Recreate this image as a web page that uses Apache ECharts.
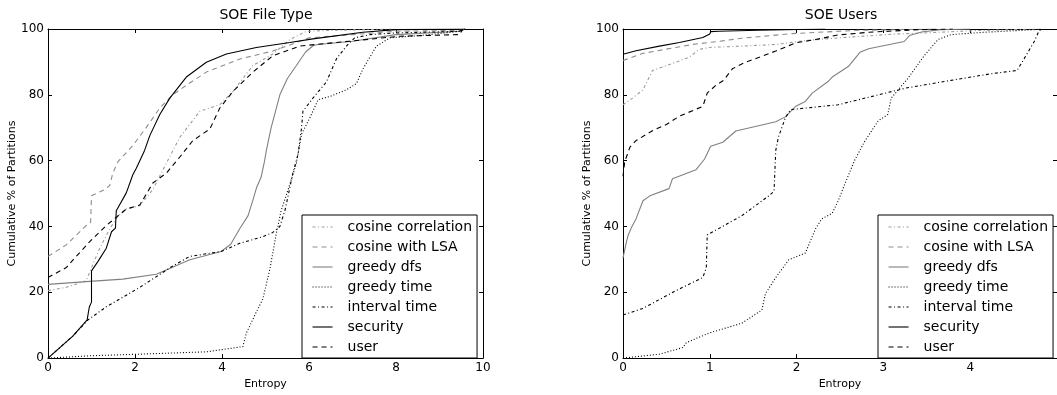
<!DOCTYPE html>
<html><head><meta charset="utf-8">
<script src="https://cdn.jsdelivr.net/npm/echarts@6/dist/echarts.min.js"></script>
<style>html,body{margin:0;padding:0;background:#fff}#c{width:1057px;height:395px}</style>
</head><body><div id="c"></div>
<script>
const FONT = 'DejaVu Sans';
const seriesNames = ['cosine correlation','cosine with LSA','greedy dfs','greedy time','interval time','security','user'];
const panelTitles = ['SOE File Type','SOE Users'];
const xAxisName = 'Entropy';
const yAxisName = 'Cumulative % of Partitions';
const yTicks = [0, 100, 20];          // min, max, step
const xTicksFileType = [0, 10, 2];
const xTicksUsers = [0, 5, 1];

// ---- SOE File Type: [entropy, cumulative %]
const ftCosineCorrelation = [[0,20.5],[0.42,21.5],[0.88,23.5],[1.0,27.5],[1.19,33.4],[1.42,39.3],[1.6,43],[1.8,45.3],[2.11,46.3],[2.41,51.2],[2.72,59.2],[3.03,67.1],[3.49,75],[3.95,77],[4.25,81],[4.71,88.9],[5.17,92.4],[5.56,96.8],[5.94,99.3],[6.55,99.6],[8.0,100]];
const ftCosineLSA = [[0,30.9],[0.42,34.4],[0.88,40.3],[0.98,41.3],[1.0,49.3],[1.3,51.2],[1.42,52.5],[1.49,56.2],[1.61,59.7],[1.95,64.6],[2.26,70.1],[2.57,76],[2.87,80],[3.18,82.9],[3.64,86.9],[4.41,90.9],[5.17,93.3],[6.0,97.3],[8.0,99.3],[9.54,99.6],[9.6,100]];
const ftGreedyDfs = [[0,22.4],[0.96,23.3],[1.72,24],[2.49,25.5],[3.26,29.9],[3.98,32.4],[4.2,34.6],[4.41,39.4],[4.6,43.3],[4.71,48],[4.8,52],[4.9,55],[4.98,60],[5.02,63.1],[5.13,70],[5.21,74],[5.33,80],[5.5,84.9],[5.71,88.9],[5.92,93],[6.1,95],[6.2,95.3],[7.0,96.3],[8.0,98.3],[9.46,99.3],[9.58,100]];
const ftGreedyTime = [[0,0],[0.96,0.7],[2.11,1.2],[3.64,1.9],[4.48,3.5],[4.56,7.6],[4.79,14],[4.94,18],[5.1,27],[5.25,38],[5.36,44.8],[5.52,51.2],[5.71,59.2],[5.83,68.1],[6.02,73],[6.21,78.5],[6.48,79.5],[6.86,81.5],[7.09,83.4],[7.24,87.9],[7.55,94.8],[7.86,97.3],[8.78,98.3],[9.46,99.3],[9.58,100]];
const ftIntervalTime = [[0,0],[0.57,6.7],[0.92,11.6],[1.34,15.6],[2.11,21.5],[2.87,28],[3.26,30.9],[3.98,32.4],[4.41,34.9],[4.94,36.9],[5.17,38.2],[5.33,40],[5.45,45],[5.63,56.2],[5.75,62.1],[5.83,70.1],[5.86,75],[6.09,79],[6.4,83.9],[6.63,90.9],[6.86,94.8],[7.05,97.3],[7.4,98.3],[8.0,98.8],[9.46,99.3],[9.58,100]];
const ftSecurity = [[0,0],[0.57,6.7],[0.9,11.6],[0.93,14],[0.95,15.5],[1.0,17],[1.0,26.5],[1.15,29.4],[1.34,33.4],[1.46,38.4],[1.55,39.5],[1.57,44.8],[1.8,50.2],[1.95,55.7],[2.03,57.7],[2.22,63.1],[2.34,67.6],[2.57,74],[2.8,79],[3.18,85.4],[3.64,89.9],[4.1,92.4],[4.79,94.4],[5.56,95.9],[6.09,97],[7.24,99],[8.0,99.8],[9.6,100]];
const ftUser = [[0,24.5],[0.42,27.5],[0.65,30.9],[0.96,35.4],[1.34,40.3],[1.8,45.3],[2.11,46.5],[2.41,53.2],[2.72,56.2],[3.03,61.1],[3.33,66.1],[3.72,69.6],[3.95,76],[4.25,81],[4.71,86.9],[5.17,91.9],[5.79,94.8],[6.93,96.3],[8.08,97.8],[9.46,98.3],[9.54,100]];

// ---- SOE Users: [entropy, cumulative %]
const usCosineCorrelation = [[0,77],[0.11,79],[0.23,81.5],[0.34,87.4],[0.61,89.9],[0.76,91.4],[0.88,93.8],[0.99,94.4],[1.37,94.8],[1.76,95.3],[2.14,96.6],[2.48,97.3],[3.09,98.4],[3.47,98.8],[4.05,99.5],[4.81,100]];
const usCosineLSA = [[0,90.4],[0.23,92.6],[0.8,95.3],[1.18,96.5],[1.37,97.2],[1.95,98.6],[2.48,99.3],[2.71,99.6],[3.6,100]];
const usGreedyDfs = [[0,30.4],[0.04,35.4],[0.06,37.4],[0.1,39.8],[0.15,42.3],[0.23,47.8],[0.31,49.3],[0.53,51.5],[0.57,54.5],[0.84,57.2],[0.94,60.5],[1.01,64.4],[1.15,65.6],[1.3,69],[1.76,71.8],[1.87,73.3],[1.99,76.5],[2.1,78],[2.18,80.5],[2.37,84.2],[2.41,85.4],[2.6,88.7],[2.73,92.9],[2.83,94],[3.24,96.2],[3.3,98],[3.44,99.1],[3.66,99.8],[4.0,100]];
const usGreedyTime = [[0,0],[0.42,1.2],[0.69,3.2],[0.73,4.7],[0.99,7.6],[1.37,10.6],[1.6,14.6],[1.64,19.5],[1.76,24.5],[1.91,29.9],[2.1,31.9],[2.22,39.4],[2.29,42.3],[2.41,44],[2.48,47.8],[2.56,53.2],[2.67,60.2],[2.79,66.1],[2.94,72.1],[3.05,74],[3.09,79],[3.28,84.9],[3.47,91.9],[3.63,96.8],[3.78,98.3],[4.16,99],[4.74,99.8],[4.81,100]];
const usIntervalTime = [[0,13.1],[0.23,15.1],[0.61,20.5],[0.92,24.5],[0.96,27.5],[0.97,37.4],[1.03,38.3],[1.37,43.3],[1.68,49.3],[1.74,50.7],[1.76,63.1],[1.79,67.1],[1.87,73],[1.93,75.5],[2.48,77],[3.02,80.5],[3.25,82],[3.78,84.4],[4.24,86.4],[4.54,87.4],[4.62,90.9],[4.74,96.3],[4.79,99.3],[4.82,100]];
const usSecurity = [[0,92.3],[0.15,93.4],[0.42,94.8],[0.65,95.9],[0.92,97.4],[1.0,98.5],[1.01,99.2],[1.1,99.3],[1.56,99.6],[2.33,100]];
const usUser = [[0,55.2],[0.02,59.7],[0.08,64.1],[0.15,66.1],[0.34,69.1],[0.5,71],[0.65,73.5],[0.92,76.5],[0.97,80.5],[1.07,82.9],[1.16,84.4],[1.26,87.9],[1.41,89.9],[1.57,91.4],[1.76,93.3],[1.99,95.8],[2.22,96.8],[2.48,98.2],[2.83,99],[3.4,99.8],[3.8,100]];

const fileTypeSeries = [ftCosineCorrelation, ftCosineLSA, ftGreedyDfs, ftGreedyTime, ftIntervalTime, ftSecurity, ftUser];
const usersSeries = [usCosineCorrelation, usCosineLSA, usGreedyDfs, usGreedyTime, usIntervalTime, usSecurity, usUser];

const lineStyles = [
  {color:'#9a9a9a', type:[3,2.5,1,2.5]},
  {color:'#8c8c8c', type:[5,4]},
  {color:'#808080', type:'solid'},
  {color:'#000000', type:[1,2]},
  {color:'#000000', type:[3,2.5,1,2.5]},
  {color:'#000000', type:'solid'},
  {color:'#000000', type:[5,4]}
];

const txt = {color:'#000', fontFamily:FONT};
function xAx(grid, t, bottom, hideMax) {
  return {
    gridIndex:grid, type:'value', min:t[0], max:t[1], interval:t[2],
    position: bottom ? 'bottom' : 'top',
    axisLine:{onZero:false, lineStyle:{color:'#000', width:1}},
    axisTick:{show:true, inside:true, length:4, lineStyle:{color:'#000'}},
    axisLabel:{show:bottom, fontSize:12, margin:4, showMaxLabel: !hideMax, ...txt},
    splitLine:{show:false},
    name: bottom ? xAxisName : '', nameLocation:'middle', nameGap:16,
    nameTextStyle:{fontSize:11, ...txt}
  };
}
function yAx(grid, left, gap) {
  return {
    gridIndex:grid, type:'value', min:yTicks[0], max:yTicks[1], interval:yTicks[2],
    position: left ? 'left' : 'right',
    axisLine:{onZero:false, lineStyle:{color:'#000', width:1}},
    axisTick:{show:true, inside:true, length:4, lineStyle:{color:'#000'}},
    axisLabel:{show:left, fontSize:12, margin:4, ...txt},
    splitLine:{show:false},
    name: left ? yAxisName : '', nameLocation:'middle', nameGap:gap,
    nameTextStyle:{fontSize:11, ...txt}
  };
}
function legendFor(left) {
  return {
    orient:'vertical', left:left, top:215, padding:[5,5,4,10],
    itemWidth:20, itemHeight:14, itemGap:6,
    borderColor:'#000', borderWidth:1, borderRadius:0, backgroundColor:'#fff',
    selectedMode:false,
    itemStyle:{opacity:0, borderWidth:0},
    lineStyle:{width:1.1},
    textStyle:{fontSize:14, padding:[0,0,0,10], ...txt},
    data: seriesNames
  };
}
const series = [];
[fileTypeSeries, usersSeries].forEach((set, p) => {
  set.forEach((d, i) => {
    series.push({
      name: seriesNames[i], type:'line', data:d,
      xAxisIndex: p*2, yAxisIndex: p*2,
      symbol:'none', showSymbol:false, silent:true,
      lineStyle:{width:1.1, color:lineStyles[i].color, type:lineStyles[i].type},
      itemStyle:{color:lineStyles[i].color},
      z: 2 + i*0.01
    });
  });
});

const chart = echarts.init(document.getElementById('c'), null, {renderer:'canvas'});
chart.setOption({
  animation:false,
  backgroundColor:'#fff',
  title:[
    {text:panelTitles[0], left:266, top:8, textAlign:'center', padding:0, textStyle:{fontSize:14, fontWeight:'normal', ...txt}},
    {text:panelTitles[1], left:841, top:8, textAlign:'center', padding:0, textStyle:{fontSize:14, fontWeight:'normal', ...txt}}
  ],
  grid:[
    {left:48, top:29, width:435, height:337},
    {left:623, top:29, width:436, height:337}
  ],
  xAxis:[ xAx(0, xTicksFileType, true, false), xAx(0, xTicksFileType, false, false),
          xAx(1, xTicksUsers, true, true), xAx(1, xTicksUsers, false, true) ],
  yAxis:[ yAx(0, true, 25), yAx(0, false, 25), yAx(1, true, 24), yAx(1, false, 24) ],
  legend:[ legendFor(302), legendFor(878) ],
  series: series
});
</script>
</body></html>
